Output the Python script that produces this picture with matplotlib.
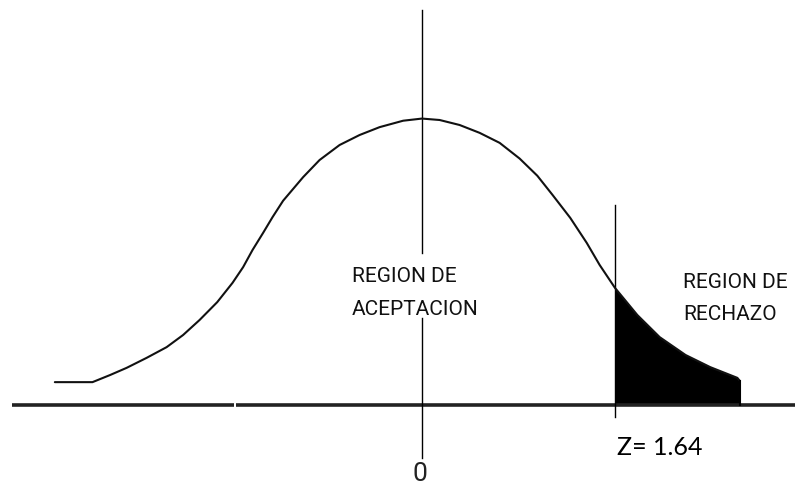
import matplotlib.pyplot as plt

# Curve: z position and height (density scale)
z_curve = [-3.12, -2.80, -2.65, -2.51, -2.34, -2.17, -2.03, -1.89, -1.74,
           -1.61, -1.52, -1.44, -1.35, -1.27, -1.18, -1.01, -0.87, -0.70,
           -0.53, -0.36, -0.16, 0.00, 0.15, 0.32, 0.49, 0.66, 0.83, 0.98,
           1.11, 1.26, 1.40, 1.51, 1.64, 1.83, 2.02, 2.24, 2.45, 2.68, 2.70]
dens_curve = [0.032, 0.032, 0.042, 0.052, 0.066, 0.081, 0.098, 0.119, 0.144,
              0.171, 0.193, 0.217, 0.241, 0.263, 0.286, 0.319, 0.343, 0.364,
              0.378, 0.389, 0.398, 0.401, 0.399, 0.392, 0.381, 0.367, 0.345,
              0.321, 0.294, 0.262, 0.227, 0.196, 0.164, 0.126, 0.095, 0.070,
              0.053, 0.038, 0.034]

z_crit = 1.64
crit_label = 'Z= 1.64'
center_label = '0'
accept_label = ['REGION DE', 'ACEPTACION']
reject_label = ['REGION DE', 'RECHAZO']

label_font = ['Roboto', 'DejaVu Sans']

fig = plt.figure(figsize=(7.99, 4.90), dpi=100)
ax = fig.add_axes([0, 0, 1, 1])
ax.set_xlim(-3.586, 3.204)
ax.set_ylim(-0.119, 0.567)
ax.axis('off')

# baseline (with the small break seen in the scan)
ax.plot([-3.48, -1.60], [0, 0], color='#222222', lw=2.6, solid_capstyle='butt')
ax.plot([-1.58, 3.17], [0, 0], color='#222222', lw=2.6, solid_capstyle='butt')

# central axis, interrupted by the label
ax.plot([0, 0], [0.553, 0.213], color='black', lw=1.0)
ax.plot([0, 0], [0.122, -0.074], color='black', lw=1.0)

# critical value line
ax.plot([z_crit, z_crit], [0.280, -0.017], color='black', lw=1.0)

# curve
ax.plot(z_curve, dens_curve, color='#111111', lw=1.5,
        solid_joinstyle='round', solid_capstyle='round')

# rejection region
tail_z = [z for z in z_curve if z >= z_crit]
tail_d = [d for z, d in zip(z_curve, dens_curve) if z >= z_crit]
ax.fill_between(tail_z, tail_d, 0, color='black', lw=0)
ax.plot([tail_z[-1], tail_z[-1]], [0, tail_d[-1]], color='black', lw=1.5)

# labels
ax.text(-0.595, 0.172, accept_label[0], family=label_font, fontsize=15,
        va='baseline', ha='left', color='#111111')
ax.text(-0.595, 0.126, accept_label[1], family=label_font, fontsize=15,
        va='baseline', ha='left', color='#111111')
ax.text(2.218, 0.164, reject_label[0], family=label_font, fontsize=15,
        va='baseline', ha='left', color='#111111')
ax.text(2.218, 0.119, reject_label[1], family=label_font, fontsize=15,
        va='baseline', ha='left', color='#111111')
ax.text(1.657, -0.070, crit_label, family=['Lato', 'DejaVu Sans'],
        fontsize=18, va='baseline', ha='left', color='black')
ax.text(-0.017, -0.080, center_label, family=label_font, fontsize=19,
        va='top', ha='center', color='#222222')

fig.savefig('out.png', dpi=100)
